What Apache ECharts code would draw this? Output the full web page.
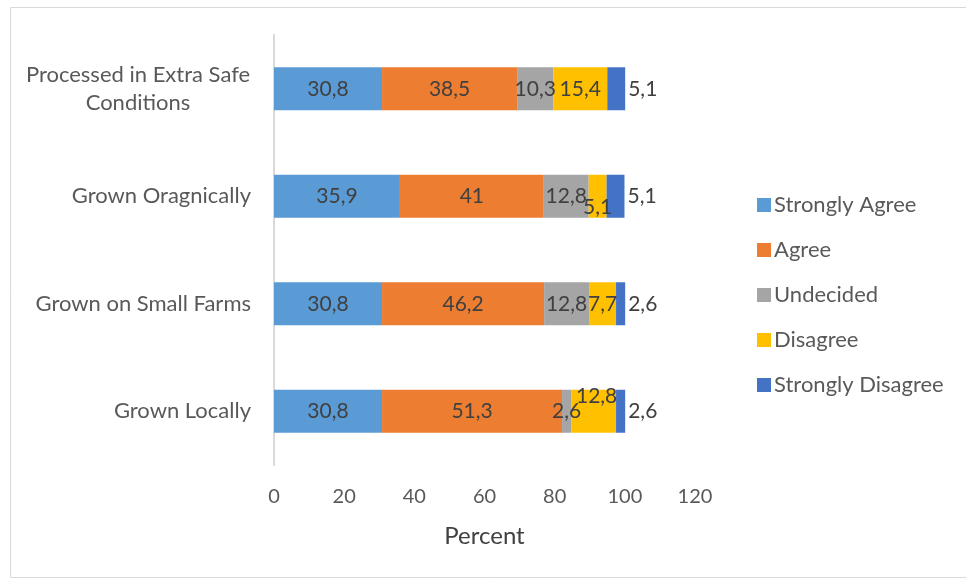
<!DOCTYPE html>
<html>
<head>
<meta charset="utf-8">
<script src="https://cdn.jsdelivr.net/npm/echarts@6/dist/echarts.min.js"></script>
<style>
  html, body { margin: 0; padding: 0; background: #fff; }
  #chart { width: 966px; height: 580px; }
</style>
</head>
<body>
<div id="chart"></div>
<script>
// Survey statements, top to bottom
const categories = [
  'Processed in Extra Safe Conditions',
  'Grown Oragnically',
  'Grown on Small Farms',
  'Grown Locally'
];
const seriesNames = ['Strongly Agree', 'Agree', 'Undecided', 'Disagree', 'Strongly Disagree'];
const stronglyAgree    = [30.8, 35.9, 30.8, 30.8];
const agree            = [38.5, 41.0, 46.2, 51.3];
const undecided        = [10.3, 12.8, 12.8, 2.6];
const disagree         = [15.4, 5.1, 7.7, 12.8];
const stronglyDisagree = [5.1, 5.1, 2.6, 2.6];
const xTicks = { min: 0, max: 120, interval: 20 };

const colors = ['#5B9BD5', '#ED7D31', '#A5A5A5', '#FFC000', '#4472C4'];
const FONT = 'Lato, "Open Sans", sans-serif';
const fmt = p => String(p.value).replace('.', ',');

// Hand-nudged labels where segments are too narrow
const labelOffsets = {
  3: { 1: [0, 11], 3: [3, -15] }
};

function buildData(values, seriesIdx) {
  return values.map((v, i) => {
    const off = labelOffsets[seriesIdx] && labelOffsets[seriesIdx][i];
    return off ? { value: v, label: { offset: off } } : v;
  });
}

const allValues = [stronglyAgree, agree, undecided, disagree, stronglyDisagree];

const series = allValues.map((vals, si) => ({
  name: seriesNames[si],
  type: 'bar',
  stack: 'total',
  barWidth: '40%',
  data: buildData(vals, si),
  itemStyle: { color: colors[si] },
  label: {
    show: true,
    position: si === 4 ? 'right' : 'inside',
    distance: 3,
    formatter: fmt,
    color: '#404040',
    fontFamily: FONT,
    fontSize: 21
  }
}));

// Long category names wrap onto two centred lines
function wrapCategory(v) {
  if (v.length > 22) {
    const cut = v.lastIndexOf(' ', 23);
    return '{c|' + v.slice(0, cut) + '}\n{c|' + v.slice(cut + 1) + '}';
  }
  return v;
}

const chart = echarts.init(document.getElementById('chart'), null, { renderer: 'canvas' });
chart.setOption({
  animation: false,
  color: colors,
  textStyle: { fontFamily: FONT },
  graphic: [{
    type: 'rect',
    shape: { x: 10.5, y: 7.5, width: 970, height: 570 },
    style: { fill: 'none', stroke: '#d9d9d9', lineWidth: 1 },
    silent: true
  }],
  grid: { left: 274, right: 271, top: 35, height: 430, containLabel: false },
  xAxis: {
    type: 'value',
    min: xTicks.min, max: xTicks.max, interval: xTicks.interval,
    name: 'Percent',
    nameLocation: 'middle',
    nameGap: 59,
    nameTextStyle: { color: '#404040', fontSize: 24, fontFamily: FONT },
    axisLine: { show: false },
    axisTick: { show: false },
    splitLine: { show: false },
    axisLabel: { color: '#595959', fontSize: 20, fontFamily: FONT, margin: 22 }
  },
  yAxis: {
    type: 'category',
    inverse: true,
    data: categories,
    axisLine: { show: true, lineStyle: { color: '#d9d9d9', width: 2 } },
    axisTick: { show: false },
    axisLabel: {
      color: '#595959', fontSize: 22, fontFamily: FONT, margin: 23,
      lineHeight: 28,
      formatter: wrapCategory,
      rich: {
        c: { width: 226, align: 'center', color: '#595959', fontSize: 22, fontFamily: FONT, lineHeight: 28 }
      }
    }
  },
  legend: {
    orient: 'vertical',
    left: 752,
    top: 188,
    icon: 'rect',
    itemWidth: 14,
    itemHeight: 14,
    itemGap: 21,
    data: seriesNames,
    textStyle: { color: '#595959', fontSize: 22, fontFamily: FONT, lineHeight: 24, padding: [0, 0, 0, -2] }
  },
  series: series
});
</script>
</body>
</html>
